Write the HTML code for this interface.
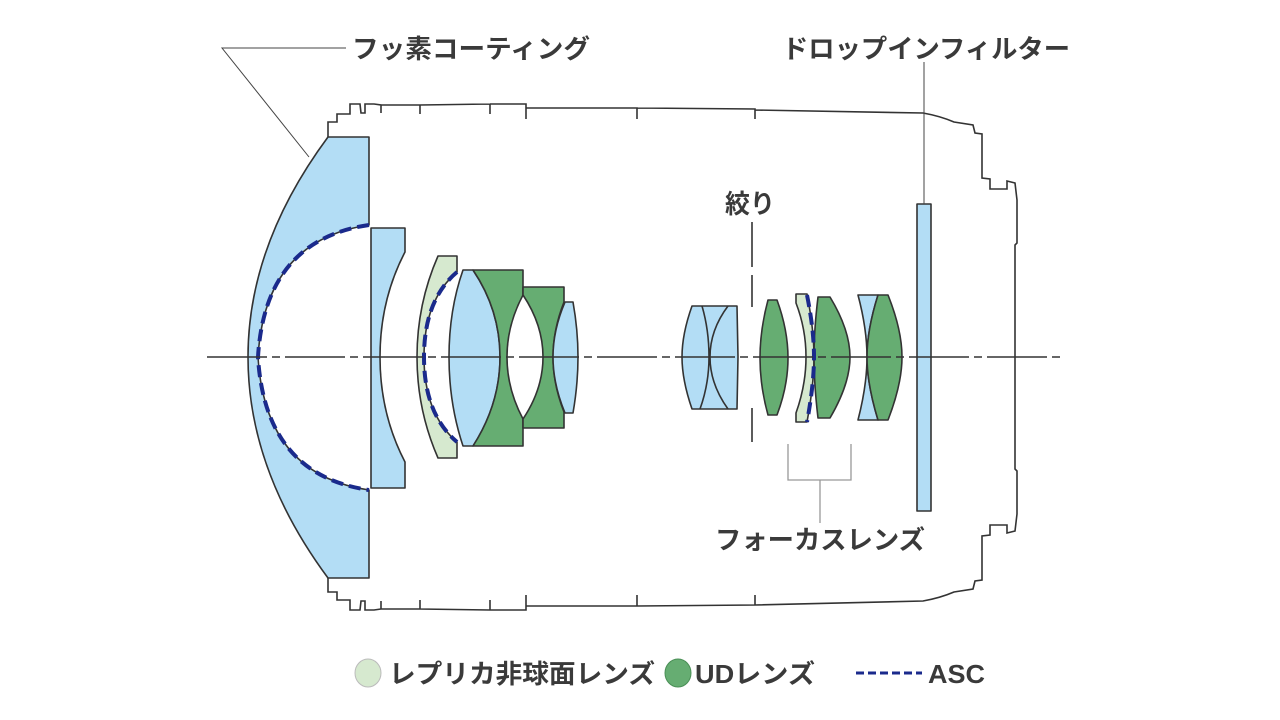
<!DOCTYPE html>
<html><head><meta charset="utf-8"><style>
html,body{margin:0;padding:0;background:#fff;}
svg{display:block;}
text{font-family:"Liberation Sans","Noto Sans CJK JP",sans-serif;font-weight:bold;fill:#3a3a3a;}
</style></head><body>
<svg width="1280" height="720" viewBox="0 0 1280 720" xmlns="http://www.w3.org/2000/svg">
<g fill="none" stroke="#333" stroke-width="1.6" stroke-linejoin="miter">
<path d="M328,137 L328,122 L337,122 L337,114 L350,114 L350,104 L360,104 L361,113 L365,113 L365,104 L374,104 L381,105 L381,113 M381,105 L420,105 L420,114 M420,105 L490,104 L490,114 M490,104 L526,104 L526,119 M526,108 L637,108 L637,119 M637,108 L755,109 L755,119 M755,110 L923,113 Q940,116 954,122 L973,125 L975,133 L982,134 L982,178 L990,179 L990,189 L1007,189 L1007,181 L1015,183 L1017,200 L1017,243 L1015,245 L1015,469 L1017,471 L1017,514 L1015,531 L1007,533 L1007,525 L990,525 L990,535 L982,536 L982,580 L975,581 L973,589 L954,592 Q940,598 923,601 L755,605 L637,606 M755,595 L755,605 M637,606 L526,606 M637,595 L637,606 M526,595 L526,610 L490,610 L490,600 M490,610 L420,609 L420,600 M420,609 L381,609 L381,601 M381,609 L374,610 L365,610 L365,601 L361,601 L360,610 L350,610 L350,600 L337,600 L337,592 L328,592 L328,578"/>
</g>
<g stroke="#333" stroke-width="1.6" stroke-linejoin="round">
<path fill="#b3ddf5" d="M328,137 L369,137 L369,225 Q265,240 258,357 Q265,475 369,490 L369,578 L328,578 Q248,470 248,357 Q248,245 328,137 Z"/>
<path fill="#b3ddf5" d="M371,228 L405,228 L405,252 Q380,300 380,357 Q380,414 405,462 L405,488 L371,488 Z"/>
<path fill="#d6e9cf" d="M438,256 L457,256 L457,272 Q424,300 424,357 Q424,414 457,442 L457,458 L438,458 Q417,410 417,357 Q417,304 438,256 Z"/>
<path fill="#b3ddf5" d="M463,270 L473,270 Q500,310 500,357 Q500,404 473,446 L463,446 Q449,404 449,357 Q449,310 463,270 Z"/>
<path fill="#66ad72" d="M473,270 L523,270 L523,295 Q507,325 507,357 Q507,389 523,419 L523,446 L473,446 Q500,404 500,357 Q500,310 473,270 Z"/>
<path fill="#66ad72" d="M523,287 L564,287 L564,302 Q553,330 553,357 Q553,384 564,412 L564,428 L523,428 L523,419 Q543,389 543,357 Q543,325 523,295 Z"/>
<path fill="#b3ddf5" d="M565,302 L573,302 Q578,330 578,357 Q578,384 573,413 L565,413 Q553,384 553,357 Q553,330 565,302 Z"/>
<path fill="#b3ddf5" d="M692,306 L737,306 L738,357 L737,409 L692,409 Q682,380 682,357 Q682,334 692,306 Z"/>
<path fill="none" d="M702,306 Q709,330 709,357 Q709,384 700,409 M728,306 Q710,330 710,357 Q710,384 728,409"/>
<path fill="#66ad72" d="M768,300 L777,300 Q788,330 788,358 Q788,386 777,415 L768,415 Q760,386 760,358 Q760,330 768,300 Z"/>
<path fill="#d6e9cf" d="M796,294 L807,294 Q814,330 814,357 Q814,384 807,422 L796,422 L796,413 Q806,385 806,357 Q806,329 796,303 Z"/>
<path fill="#66ad72" d="M818,297 L830,297 Q850,330 850,357 Q850,384 830,418 L818,418 Q814,384 814,357 Q814,330 818,297 Z"/>
<path fill="#b3ddf5" d="M858,295 L878,295 Q867,330 867,357 Q867,384 878,420 L858,420 Q867,385 867,357 Q867,329 858,295 Z"/>
<path fill="#66ad72" d="M878,295 L888,295 Q902,330 902,357 Q902,384 888,420 L878,420 Q867,384 867,357 Q867,330 878,295 Z"/>
<rect x="917" y="204" width="14" height="307" fill="#b3ddf5"/>
</g>
<g fill="none" stroke="#1a2a8c" stroke-width="4" stroke-dasharray="12,6">
<path d="M369,225 Q265,240 258,357 Q265,475 369,490"/>
<path d="M457,272 Q424,300 424,357 Q424,414 457,442"/>
<path d="M807,295 Q814,330 814,357 Q814,384 807,422"/>
</g>
<line x1="207" y1="357" x2="1065" y2="357" stroke="#333" stroke-width="1.6" stroke-dasharray="60,5,8,5"/>
<g stroke="#333" stroke-width="1.6">
<line x1="752" y1="222" x2="752" y2="267"/><line x1="752" y1="275" x2="752" y2="307"/>
<line x1="752" y1="408" x2="752" y2="442"/>
</g>
<g fill="none" stroke="#444" stroke-width="1">
<path d="M346,48 L222,48 L309,157"/>
<path d="M924,62 L924,204"/>
</g>
<g fill="none" stroke="#999" stroke-width="1.3">
<path d="M788,444 L788,480 L851,480 L851,444 M820,480 L820,523"/>
</g>
<text x="352" y="58" font-size="26" textLength="238" lengthAdjust="spacingAndGlyphs">フッ素コーティング</text>
<text x="782" y="58" font-size="26" textLength="288" lengthAdjust="spacingAndGlyphs">ドロップインフィルター</text>
<text x="725" y="213" font-size="26" textLength="50" lengthAdjust="spacingAndGlyphs">絞り</text>
<text x="715" y="549" font-size="26" textLength="210" lengthAdjust="spacingAndGlyphs">フォーカスレンズ</text>
<ellipse cx="368" cy="673" rx="13" ry="14" fill="#d6e9cf" stroke="#bbb" stroke-width="1"/>
<text x="389" y="683" font-size="26" textLength="266" lengthAdjust="spacingAndGlyphs">レプリカ非球面レンズ</text>
<ellipse cx="678" cy="673" rx="13" ry="14" fill="#66ad72" stroke="#4a8f56" stroke-width="1"/>
<text x="695" y="683" font-size="26" textLength="120" lengthAdjust="spacingAndGlyphs">UDレンズ</text>
<line x1="856" y1="673" x2="922" y2="673" stroke="#1a2a8c" stroke-width="3" stroke-dasharray="8,4"/>
<text x="928" y="683" font-size="26" textLength="57" lengthAdjust="spacingAndGlyphs">ASC</text>
</svg>
</body></html>
